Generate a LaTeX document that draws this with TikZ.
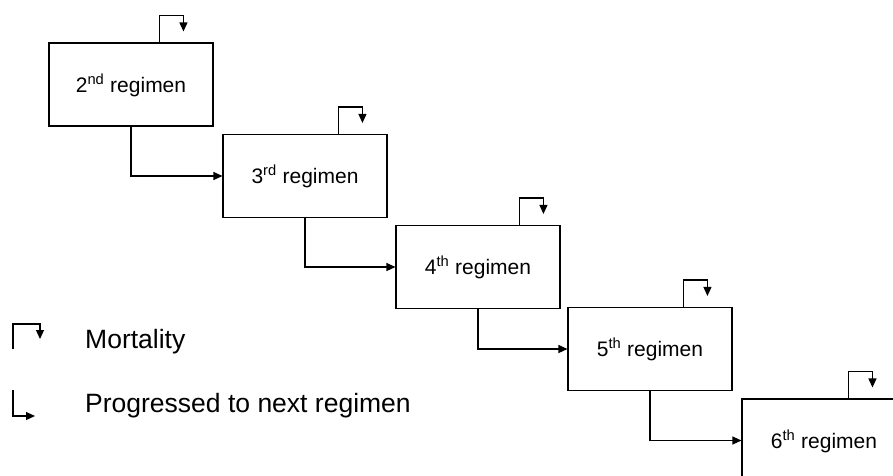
\documentclass[tikz,border=0pt]{standalone}
\usepackage{fontspec}
\setmainfont{Liberation Sans}
\usetikzlibrary{arrows.meta,calc}
\begin{document}
\begin{tikzpicture}[x=1pt,y=-1pt,
  regbox/.style={draw,line width=1.1pt,minimum width=164pt,minimum height=83pt,inner sep=0pt,
    text height=15pt,text depth=0pt,font=\fontsize{21}{25}\selectfont},
  conn/.style={line width=1.1pt,-{Triangle[length=9pt,width=8pt]}},
  legtext/.style={anchor=base west,inner sep=0pt,font=\fontsize{26.5}{30}\selectfont}]
\useasboundingbox (0,0) rectangle (893,475);
\clip (0,0) rectangle (893,475);
% boxes
\node[regbox] (b2) at (131,84.5) {2\textsuperscript{nd} regimen};
\node[regbox] (b3) at (305,176) {3\textsuperscript{rd} regimen};
\node[regbox] (b4) at (478,267) {4\textsuperscript{th} regimen};
\node[regbox] (b5) at (650,349) {5\textsuperscript{th} regimen};
\node[regbox] (b6) at (824,440.5) {6\textsuperscript{th} regimen};
% progression connectors
\draw[conn] (b2.south) |- (b3.west);
\draw[conn] (b3.south) |- (b4.west);
\draw[conn] (b4.south) |- (b5.west);
\draw[conn] (b5.south) |- (b6.west);
% mortality connectors
\coordinate (m2s) at ($(b2.north west)+(111,0)$);
\coordinate (m3s) at ($(b3.north west)+(116,0)$);
\coordinate (m4s) at ($(b4.north west)+(124,0)$);
\coordinate (m5s) at ($(b5.north west)+(116,0)$);
\coordinate (m6s) at ($(b6.north west)+(107,0)$);
\foreach \m in {m2s,m3s,m4s,m5s,m6s}{
  \draw[conn] (\m) -- ++(0,-27) -- ++(24,0) -- ++(0,16);
}
% legend
\coordinate (lm) at (13,349);
\coordinate (lp) at (13,390);
\draw[conn] (lm) -- ++(0,-25) -- ++(27,0) -- ++(0,15);
\draw[conn] (lp) -- ++(0,26) -- ++(22,0);
\node[legtext] (tm) at (85,348) {Mortality};
\node[legtext] (tp) at (85,412) {Progressed to next regimen};
\end{tikzpicture}
\end{document}
